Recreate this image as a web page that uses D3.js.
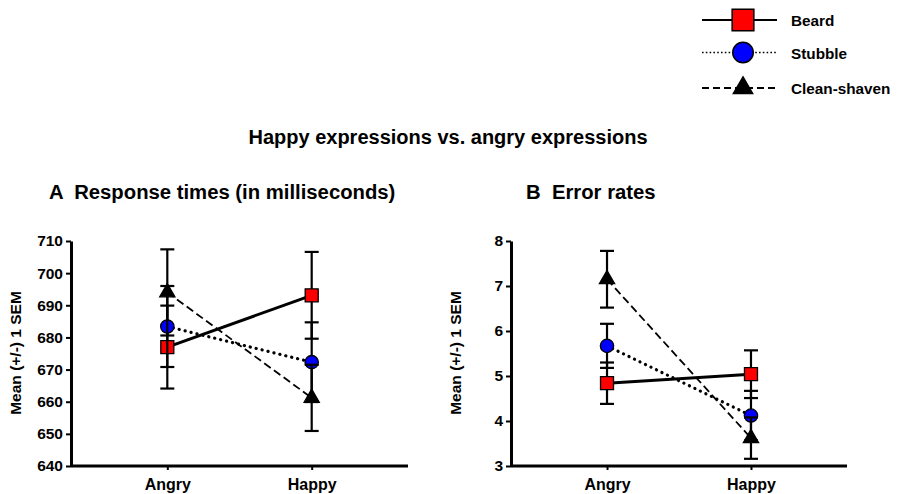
<!DOCTYPE html>
<html>
<head>
<meta charset="utf-8">
<script src="https://cdn.jsdelivr.net/npm/d3@7"></script>
<style>
  body { margin: 0; background: #fff; }
  text { font-family: "Liberation Sans", Arial, sans-serif; font-weight: bold; fill: #000; }
</style>
</head>
<body>
<div id="chart"></div>
<script>
var categories = ["Angry", "Happy"];
var seriesNames = ["Beard", "Stubble", "Clean-shaven"];

// response times (ms), mean and SEM per series, [Angry, Happy]
var rtBeard = [677, 693.1];
var rtStubble = [683.4, 672.3];
var rtClean = [694, 661.2];
var rtSemBeard = [12.9, 13.5];
var rtSemStubble = [12.6, 12.4];
var rtSemClean = [13.4, 10.3];
var rtTicks = [640, 650, 660, 670, 680, 690, 700, 710];

// error rates
var erBeard = [4.84, 5.04];
var erStubble = [5.67, 4.12];
var erClean = [7.15, 3.62];
var erSemBeard = [0.46, 0.53];
var erSemStubble = [0.49, 0.55];
var erSemClean = [0.63, 0.46];
var erTicks = [3, 4, 5, 6, 7, 8];

var width = 897, height = 494;

var svg = d3.select("#chart")
    .append("svg")
    .attr("width", width)
    .attr("height", height);

var styles = {
    "Beard": {fill: "#ff0000", dash: null, lw: 3, cap: "butt", shape: d3.symbolSquare, size: 169},
    "Stubble": {fill: "#0000ff", dash: "0.1,6", lw: 3.2, cap: "round", shape: d3.symbolCircle, size: 140},
    "Clean-shaven": {fill: "#000000", dash: "8,4", lw: 1.8, cap: "butt", shape: d3.symbolTriangle, size: 100}
};

// titles
svg.append("text")
    .attr("x", 448).attr("y", 144)
    .attr("text-anchor", "middle")
    .style("font-size", "20px")
    .text("Happy expressions vs. angry expressions");

function drawPanel(opts)
{
    var g = svg.append("g");

    g.append("text")
        .attr("x", opts.titleX).attr("y", 199)
        .style("font-size", "20.3px")
        .style("white-space", "pre")
        .attr("xml:space", "preserve")
        .text(opts.title);

    var x = d3.scalePoint()
        .domain(categories)
        .range([opts.left, opts.right])
        .padding(0.667);

    var y = d3.scaleLinear()
        .domain([opts.ticks[0], opts.ticks[opts.ticks.length - 1]])
        .range([466, 241]);

    var yAxis = g.append("g")
        .attr("transform", "translate(" + opts.left + ",0)")
        .call(d3.axisLeft(y).tickValues(opts.ticks).tickFormat(d3.format("d"))
            .tickSize(5).tickSizeOuter(0).tickPadding(3));
    yAxis.select(".domain").attr("stroke-width", 3);
    yAxis.selectAll(".tick line").attr("stroke-width", 2);
    yAxis.selectAll(".tick text").style("font-size", "15.5px").attr("font-family", null);

    var xAxis = g.append("g")
        .attr("transform", "translate(0,466)")
        .call(d3.axisBottom(x).tickSize(4).tickSizeOuter(0).tickPadding(9));
    xAxis.select(".domain").attr("stroke-width", 3)
        .attr("d", "M" + opts.left + ",0H" + opts.right);
    xAxis.selectAll(".tick line").attr("stroke-width", 2);
    xAxis.selectAll(".tick text").style("font-size", "16px").attr("font-family", null);

    g.append("text")
        .attr("transform", "translate(" + (opts.left - 50) + ",353) rotate(-90)")
        .attr("text-anchor", "middle")
        .style("font-size", "15.5px")
        .text("Mean (+/-) 1 SEM");

    var line = d3.line()
        .x(function(d) { return x(d.cat); })
        .y(function(d) { return y(d.v); });

    opts.series.forEach(function(s) {
        var st = styles[s.name];
        var pts = categories.map(function(c, i) { return {cat: c, v: s.mean[i], e: s.sem[i]}; });

        g.append("path")
            .datum(pts)
            .attr("fill", "none")
            .attr("stroke", "#000")
            .attr("stroke-width", st.lw)
            .attr("stroke-dasharray", st.dash)
            .attr("stroke-linecap", st.cap)
            .attr("d", line);

        var eb = g.append("g").selectAll("g")
            .data(pts)
            .enter()
            .append("g");
        eb.append("line")
            .attr("x1", function(d) { return x(d.cat); })
            .attr("x2", function(d) { return x(d.cat); })
            .attr("y1", function(d) { return y(d.v - d.e); })
            .attr("y2", function(d) { return y(d.v + d.e); })
            .attr("stroke", "#000").attr("stroke-width", 2.2);
        [-1, 1].forEach(function(sgn) {
            eb.append("line")
                .attr("x1", function(d) { return x(d.cat) - 7; })
                .attr("x2", function(d) { return x(d.cat) + 7; })
                .attr("y1", function(d) { return y(d.v + sgn * d.e); })
                .attr("y2", function(d) { return y(d.v + sgn * d.e); })
                .attr("stroke", "#000").attr("stroke-width", 2.2);
        });

        g.append("g").selectAll("path")
            .data(pts)
            .enter()
            .append("path")
            .attr("transform", function(d) { return "translate(" + x(d.cat) + "," + y(d.v) + ")"; })
            .attr("d", d3.symbol().type(st.shape).size(st.size))
            .attr("fill", st.fill)
            .attr("stroke", "#000")
            .attr("stroke-width", 1.3);
    });
}

drawPanel({
    left: 71, right: 408, titleX: 49, title: "A  Response times (in milliseconds)",
    ticks: rtTicks,
    series: [
        {name: "Beard", mean: rtBeard, sem: rtSemBeard},
        {name: "Stubble", mean: rtStubble, sem: rtSemStubble},
        {name: "Clean-shaven", mean: rtClean, sem: rtSemClean}
    ]
});

drawPanel({
    left: 511, right: 847, titleX: 526, title: "B  Error rates",
    ticks: erTicks,
    series: [
        {name: "Beard", mean: erBeard, sem: erSemBeard},
        {name: "Stubble", mean: erStubble, sem: erSemStubble},
        {name: "Clean-shaven", mean: erClean, sem: erSemClean}
    ]
});

// legend
var legendY = [20, 52.5, 88];
var leg = svg.append("g")
    .selectAll("g")
    .data(seriesNames)
    .enter()
    .append("g")
    .attr("transform", function(d, i) { return "translate(0," + legendY[i] + ")"; });

leg.append("line")
    .attr("x1", 702).attr("x2", 777)
    .attr("y1", 0).attr("y2", 0)
    .attr("stroke", "#000")
    .attr("stroke-width", function(d) { return d == "Stubble" ? 1.6 : 2.2; })
    .attr("stroke-dasharray", function(d) { return d == "Beard" ? null : (d == "Stubble" ? "1.6,2.2" : "7,4"); });

leg.append("path")
    .attr("transform", "translate(743,0)")
    .attr("d", function(d) {
        var s = d == "Beard" ? 470 : (d == "Stubble" ? 330 : 160);
        return d3.symbol().type(styles[d].shape).size(s)();
    })
    .attr("fill", function(d) { return styles[d].fill; })
    .attr("stroke", "#000")
    .attr("stroke-width", 1.5);

leg.append("text")
    .attr("x", 791)
    .attr("y", 6)
    .style("font-size", "15.3px")
    .text(function(d) { return d; });
</script>
</body>
</html>
